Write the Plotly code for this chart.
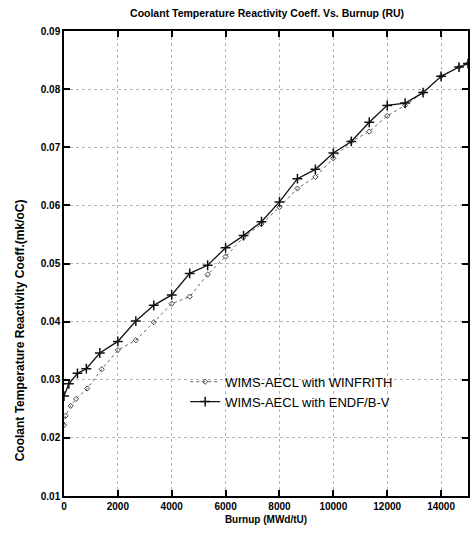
import plotly.graph_objects as go

burnup_endf = [0, 180, 500, 830, 1330, 2000, 2667, 3333, 4000, 4667, 5333, 6000, 6667,
               7333, 8000, 8667, 9333, 10000, 10667, 11333, 12000, 12667, 13333, 14000,
               14667, 15000]
coeff_endf = [0.0272, 0.0293, 0.0311, 0.0319, 0.0346, 0.0366, 0.0401, 0.0428, 0.0446,
              0.0483, 0.0497, 0.0527, 0.0548, 0.0572, 0.0606, 0.0646, 0.0662, 0.0690,
              0.0710, 0.0743, 0.0772, 0.0776, 0.0794, 0.0822, 0.0838, 0.0844]

burnup_winf = [0, 60, 250, 450, 860, 1400, 2000, 2667, 3333, 4000, 4667, 5333, 6000, 6667,
               7333, 8000, 8667, 9333, 10000, 10667, 11333, 12000, 12667, 13333, 14000,
               14667, 15000]
coeff_winf = [0.0222, 0.0238, 0.0255, 0.0267, 0.0285, 0.0318, 0.0351, 0.0368, 0.0399,
              0.0431, 0.0443, 0.0481, 0.0512, 0.0545, 0.0568, 0.0597, 0.0629, 0.0649,
              0.0681, 0.0710, 0.0727, 0.0754, 0.0772, 0.0794, 0.0822, 0.0838, 0.0844]

x_ticks = [0, 2000, 4000, 6000, 8000, 10000, 12000, 14000]
y_ticks = [0.01, 0.02, 0.03, 0.04, 0.05, 0.06, 0.07, 0.08, 0.09]

title = "Coolant Temperature Reactivity Coeff. Vs. Burnup (RU)"
x_title = "Burnup (MWd/tU)"
y_title = "Coolant Temperature Reactivity Coeff.(mk/oC)"
name_winf = "WIMS-AECL with WINFRITH"
name_endf = "WIMS-AECL with ENDF/B-V"

FONT = "Liberation Sans, Arial, sans-serif"

fig = go.Figure()
fig.add_trace(go.Scatter(
    x=burnup_winf, y=coeff_winf, name=name_winf, mode="lines+markers",
    line=dict(color="#666666", width=1, dash="dot"),
    marker=dict(symbol="diamond-open", size=4, color="#444444", line=dict(width=1)),
))
fig.add_trace(go.Scatter(
    x=burnup_endf, y=coeff_endf, name=name_endf, mode="lines+markers",
    line=dict(color="#111111", width=1.3),
    marker=dict(symbol="cross-thin-open", size=7, color="#111111", line=dict(width=1.5, color="#111111")),
))

axis_common = dict(
    showline=True, linecolor="black", linewidth=1.5, mirror="ticks",
    ticks="inside", ticklen=6, tickwidth=1.5, tickcolor="black",
    showgrid=True, gridcolor="#b5b5b5", gridwidth=1, griddash="dot",
    zeroline=False,
    tickfont=dict(family=FONT, size=10, color="black", weight="bold"),
)

fig.update_xaxes(
    range=[0, 15000], tickvals=x_ticks, ticktext=[str(v) for v in x_ticks],
    title=dict(text=x_title, font=dict(family=FONT, size=10, color="black", weight="bold"), standoff=5),
    **axis_common,
)
fig.update_yaxes(
    range=[0.01, 0.09], tickvals=y_ticks, ticktext=[f"{v:.2f}" for v in y_ticks],
    **axis_common,
)

fig.add_annotation(
    text=y_title, textangle=-90, xref="paper", yref="paper",
    x=-0.108, y=0.357, xanchor="center", yanchor="middle", showarrow=False,
    font=dict(family=FONT, size=12, color="black", weight="bold"),
)

fig.update_layout(
    width=471, height=541,
    margin=dict(l=64, r=1, t=31, b=45),
    paper_bgcolor="white", plot_bgcolor="white",
    title=dict(text=title, x=0.567, xanchor="center", y=0.976, yanchor="middle",
               font=dict(family=FONT, size=10.5, color="black", weight="bold")),
    legend=dict(x=0.30, y=0.278, xanchor="left", yanchor="top",
                bgcolor="rgba(0,0,0,0)", borderwidth=0,
                font=dict(family=FONT, size=13, color="black"),
                tracegroupgap=0, itemwidth=30),
    showlegend=True,
)

fig.write_html("out.html")
